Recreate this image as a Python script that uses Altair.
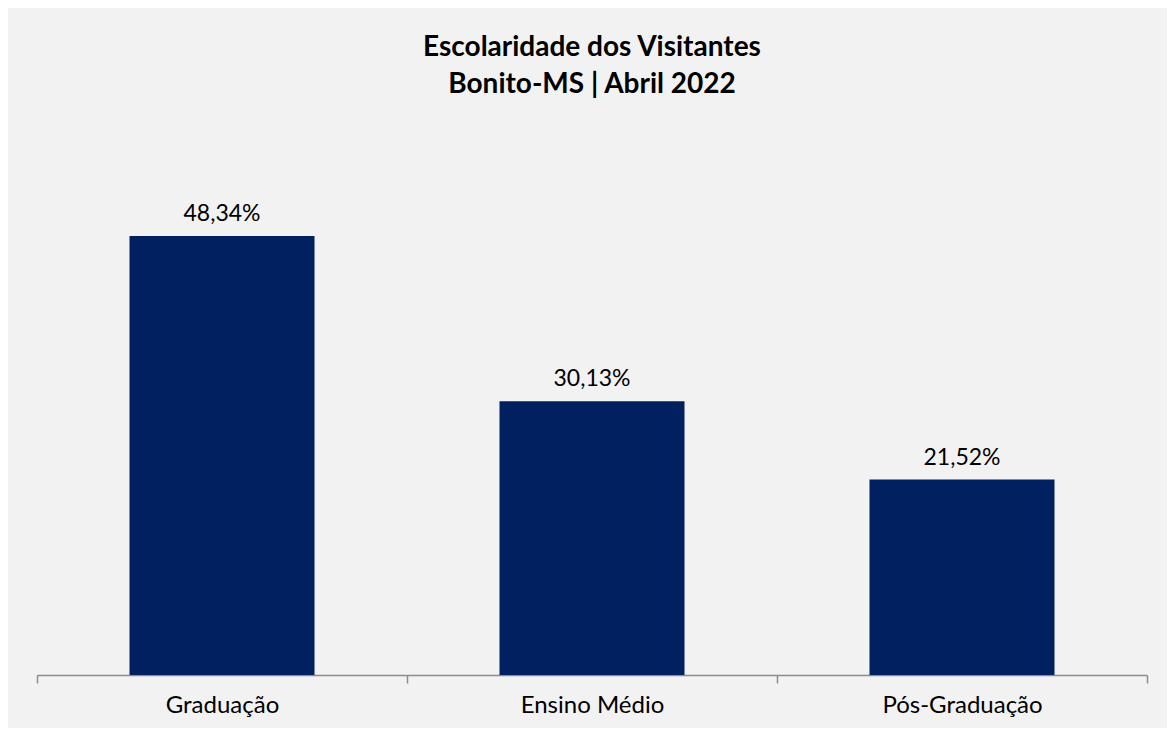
import altair as alt
import pandas as pd

categories = ["Graduação", "Ensino Médio", "Pós-Graduação"]
values = [48.34, 30.13, 21.52]
labels = ["48,34%", "30,13%", "21,52%"]

df = pd.DataFrame({"cat": categories, "val": values, "label": labels})

FONT = "Lato"

x = alt.X(
    "cat:N",
    sort=categories,
    title=None,
    scale=alt.Scale(paddingInner=0, paddingOuter=0),
    axis=alt.Axis(
        labelAngle=0,
        labelFontSize=24,
        labelFont=FONT,
        labelColor="#000000",
        labelPadding=10,
        tickBand="extent",
        tickSize=8,
        tickColor="#8c8c8c",
        tickWidth=1.5,
        domainColor="#8c8c8c",
        domainWidth=1.5,
        grid=False,
    ),
)
y = alt.Y("val:Q", scale=alt.Scale(domain=[0, 60]), axis=None)

bars = alt.Chart(df).mark_bar(color="#002060", width=alt.RelativeBandSize(0.5)).encode(x=x, y=y)
text = alt.Chart(df).mark_text(
    font=FONT, fontSize=23, color="#000000", baseline="alphabetic", dy=-15
).encode(x=alt.X("cat:N", sort=categories), y=y, text="label:N")

chart = (
    alt.layer(bars, text)
    .properties(
        width=1110,
        height=545,
        autosize=alt.AutoSizeParams(type="none"),
        padding={"left": 29, "top": 122, "right": 20, "bottom": 53},
        background="#f2f2f2",
        title=alt.TitleParams(
            text=["Escolaridade dos Visitantes", "Bonito-MS | Abril 2022"],
            font=FONT,
            fontSize=28,
            fontWeight="bold",
            color="#000000",
            lineHeight=37,
            anchor="middle",
            offset=31,
        ),
    )
    .configure_view(stroke=None)
)

chart.save("out.html", embed_options={"renderer": "svg", "actions": False})
